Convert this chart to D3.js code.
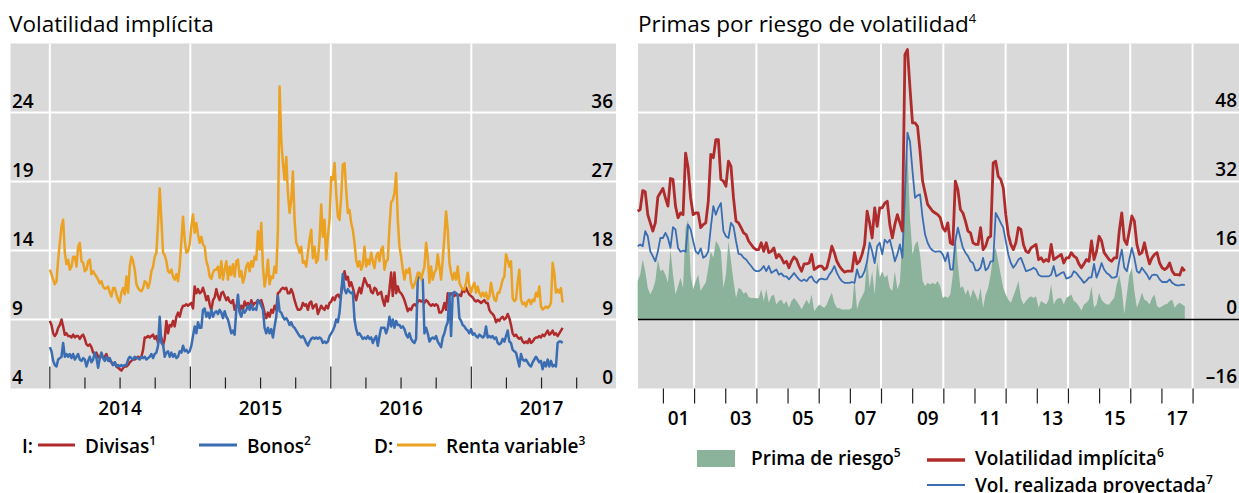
<!DOCTYPE html>
<meta charset="utf-8">
<title>Volatilidad implícita y primas por riesgo</title>
<style>
  body { margin: 0; background: #fff; }
  svg { font-family: "Open Sans", sans-serif; }
  .title { font-size: 22.5px; font-weight: 400; }
  .lbl { font-size: 19px; font-weight: 600; }
  .leg { font-size: 19px; font-weight: 600; }
  .sup { font-size: 12px; }
  .title .sup { font-size: 13px; }
</style>
<body>
<svg id="chart" width="1239" height="493"></svg>
<script src="https://d3js.org/d3.v7.min.js"></script>
<script>
// ---- left panel: implied volatility (2014 - Sep 2017), roughly twice a week ----
var leftStart = 2014.0, leftEnd = 2017.65;
var yearLabels = ["2014", "2015", "2016", "2017"];
var ticksLeftI = [4, 9, 14, 19, 24];
var ticksLeftD = [0, 9, 18, 27, 36];

var divisas = [
  8.9, 8.6, 8.0, 7.8, 8.0, 8.4, 8.6, 9.0, 8.5, 7.9,
  8.0, 7.8, 7.8, 7.7, 7.9, 7.7, 7.8, 7.8, 7.6, 7.8,
  7.9, 7.6, 7.2, 7.1, 7.2, 7.0, 6.6, 6.5, 6.6, 6.3,
  6.2, 6.5, 6.2, 6.3, 6.5, 6.1, 6.0, 5.9, 5.7, 5.9,
  5.6, 5.5, 5.4, 5.3, 5.5, 5.6, 5.6, 5.7, 5.9, 6.0,
  6.1, 6.1, 6.2, 6.3, 6.2, 6.3, 6.8, 7.7, 7.7, 7.8,
  7.7, 7.8, 7.9, 7.6, 7.8, 7.3, 7.7, 7.7, 7.1, 7.6,
  8.9, 8.0, 8.6, 8.5, 8.9, 8.5, 9.2, 9.5, 9.2, 9.7,
  10.0, 10.0, 10.1, 10.0, 10.1, 10.2, 9.8, 11.4, 10.9, 11.2,
  10.9, 11.0, 11.3, 10.9, 10.4, 10.7, 10.1, 9.7, 10.4, 10.6,
  11.2, 10.7, 10.4,
  10.9, 11.0, 10.7, 10.4, 10.6, 10.3, 10.2, 10.4, 9.7, 10.0,
  10.2, 9.6, 10.0, 9.7, 10.3, 10.0, 10.2, 9.8, 10.4, 10.0,
  10.2, 10.2, 10.4, 10.2, 10.4, 10.0, 9.5, 9.1, 9.5, 9.2,
  9.7, 9.5, 10.0, 9.7, 10.9, 11.0, 11.2, 11.3, 11.2, 11.3,
  10.9, 10.9, 11.2, 10.9, 10.4, 10.0, 9.7, 9.7, 9.8, 10.2,
  10.0, 10.1, 9.7, 10.2, 10.3, 9.8, 10.0, 10.1, 9.4, 9.7,
  10.0, 9.8, 9.7, 10.0, 9.8, 10.2, 10.3, 10.6, 10.4, 10.7,
  10.8, 10.6, 10.9, 11.8, 12.5, 11.9, 12.1, 11.4, 11.7, 11.3,
  10.8, 10.4, 10.9, 11.3, 10.9, 11.5, 12.0, 11.7, 11.4, 11.5,
  11.0, 10.9, 11.3, 11.2, 10.8, 10.9, 11.0, 10.4, 10.0, 10.7,
  10.3, 11.2, 12.4, 10.7, 12.4, 10.9, 11.4,
  11.0, 10.9, 10.7, 10.4, 10.0, 9.6, 9.8, 9.7, 10.0, 10.1,
  10.0, 10.3, 10.4, 10.3, 10.4, 10.2, 10.4, 10.3, 10.1, 10.0,
  10.1, 10.0, 10.1, 10.0, 9.5, 9.5, 9.7, 10.2, 9.7, 10.9,
  10.7, 10.9, 10.8, 10.7, 10.9, 10.7, 10.8, 10.7, 11.2, 11.0,
  11.3, 11.0, 10.8, 10.7, 10.6, 10.4, 10.3, 10.4, 10.3, 10.2,
  10.3, 10.4, 10.2, 10.2, 9.7, 9.5, 9.4, 9.2, 8.8, 9.0,
  8.9, 9.1, 9.2, 9.0, 9.1, 9.4, 9.1, 8.6, 8.0, 7.8,
  7.9, 7.7, 7.6, 7.7, 7.4, 7.3, 7.4, 7.3, 7.6, 7.3,
  7.4, 7.6, 7.7, 7.7, 7.8, 7.7, 7.9, 7.8, 8.0, 8.2,
  7.9, 8.0, 8.2, 7.9, 8.0, 7.8, 8.0, 8.2, 8.4
];

var bonos = [
  7.0, 6.7, 6.0, 5.7, 5.6, 6.1, 6.2, 6.3, 7.3, 6.3,
  6.5, 6.3, 6.5, 6.2, 6.5, 6.1, 6.3, 6.5, 6.1, 6.0,
  6.2, 6.1, 5.6, 6.0, 6.3, 5.9, 6.1, 6.6, 6.2, 5.5,
  6.2, 6.6, 6.2, 6.0, 6.3, 6.0, 6.2, 5.9, 5.7, 5.9,
  5.6, 5.7, 5.6, 5.7, 5.6, 5.7, 5.7, 6.1, 6.3, 6.2,
  6.1, 6.3, 6.2, 6.2, 6.1, 6.3, 6.2, 6.3, 6.1, 6.2,
  6.3, 6.5, 6.2, 6.5, 6.6, 7.1, 9.2, 7.3, 7.2, 6.3,
  6.6, 6.7, 6.3, 6.6, 6.3, 6.5, 6.2, 6.3, 6.7, 6.6,
  7.1, 6.7, 6.8, 6.6, 6.7, 7.1, 7.8, 8.5, 8.0, 8.8,
  8.4, 8.4, 9.7, 9.8, 9.2, 9.5, 9.1, 9.7, 9.2, 9.5,
  9.6, 9.4, 9.7,
  9.5, 9.1, 9.6, 9.2, 9.0, 8.5, 8.0, 8.2, 7.9, 9.7,
  10.8, 9.5, 9.2, 9.7, 9.5, 9.7, 10.0, 9.7, 10.1, 9.7,
  9.8, 9.7, 10.4, 10.3, 10.0, 9.7, 8.4, 8.0, 8.4, 8.0,
  8.3, 7.7, 8.5, 9.2, 10.7, 9.6, 9.5, 9.2, 9.0, 9.1,
  8.9, 8.6, 8.8, 8.5, 8.4, 8.2, 8.0, 7.8, 7.7, 7.8,
  7.6, 7.3, 7.1, 7.4, 7.6, 7.7, 7.6, 7.7, 7.6, 7.7,
  7.6, 7.3, 7.4, 7.3, 7.4, 7.8, 8.0, 8.2, 8.5, 9.0,
  8.8, 9.5, 10.9, 12.3, 11.2, 10.9, 11.2, 11.0, 10.9, 11.0,
  9.0, 8.3, 7.9, 8.0, 7.8, 7.6, 7.7, 7.6, 7.8, 7.6,
  7.7, 7.3, 7.6, 7.8, 7.1, 7.8, 8.4, 8.4, 8.4, 8.0,
  8.4, 9.2, 8.5, 9.0, 8.4, 8.9, 8.6,
  8.6, 8.4, 8.5, 8.3, 7.9, 7.7, 8.0, 7.6, 7.4, 7.3,
  7.6, 12.0, 12.1, 12.0, 11.9, 8.0, 8.4, 8.0, 7.4, 7.6,
  7.7, 7.6, 7.8, 7.4, 7.2, 7.0, 7.7, 8.0, 8.5, 8.8,
  10.9, 7.8, 10.9, 11.0, 10.9, 10.8, 9.1, 8.9, 8.6, 8.5,
  8.3, 8.2, 8.0, 8.3, 7.9, 8.0, 7.8, 7.7, 7.9, 7.8,
  7.7, 7.8, 8.5, 7.7, 7.8, 7.7, 7.8, 7.6, 7.7, 7.3,
  7.2, 7.3, 7.6, 7.4, 7.8, 8.2, 7.4, 7.3, 6.8, 6.7,
  6.6, 6.1, 5.6, 6.5, 6.1, 6.0, 6.1, 5.9, 5.7, 5.6,
  5.9, 6.1, 6.3, 6.1, 5.9, 6.0, 5.4, 5.9, 5.6, 6.1,
  5.6, 6.0, 5.6, 5.7, 5.6, 7.3, 7.4, 7.4, 7.3
];

var rentaVariable = [
  15.5, 14.9, 14.2, 13.6, 14.0, 16.8, 19.0, 21.1, 22.0, 17.7,
  16.2, 16.8, 15.5, 15.9, 17.2, 17.2, 15.9, 18.5, 19.0, 16.6,
  16.4, 15.3, 15.5, 16.6, 16.8, 14.9, 15.3, 14.9, 14.6, 14.2,
  13.7, 14.0, 13.3, 13.0, 13.1, 13.3, 12.5, 12.0, 13.1, 13.1,
  12.3, 11.6, 11.2, 12.5, 13.1, 12.3, 14.6, 12.5, 15.9, 17.2,
  16.6, 15.5, 13.6, 13.1, 12.8, 12.7, 13.1, 14.0, 13.8, 13.1,
  13.8, 15.3, 15.9, 17.2, 17.7, 21.6, 26.1, 22.0, 17.7, 17.4,
  16.6, 15.3, 15.1, 15.5, 14.6, 14.2, 14.9, 14.0, 15.9, 19.2,
  22.4, 19.4, 17.7, 17.9, 18.8, 21.1, 22.7, 20.3, 21.6, 20.1,
  19.0, 19.8, 18.8, 18.5, 16.6, 15.9, 14.6, 14.3, 15.1, 15.5,
  15.5, 15.9, 14.4,
  16.6, 14.2, 15.5, 16.6, 14.2, 15.9, 14.8, 16.2, 14.6, 16.6,
  16.8, 14.6, 15.3, 13.8, 14.6, 15.9, 16.4, 15.3, 16.6, 15.9,
  17.2, 16.8, 20.5, 18.1, 21.6, 15.9, 13.3, 14.6, 16.8, 13.6,
  14.6, 14.4, 15.9, 15.1, 20.7, 39.4, 32.4, 29.4, 27.2, 30.2,
  25.5, 22.9, 24.6, 28.3, 22.0, 19.0, 18.5, 17.7, 18.5, 16.4,
  16.6, 15.9, 17.7, 19.4, 20.7, 17.0, 18.5, 16.4, 16.8, 19.4,
  24.0, 19.8, 22.0, 16.8, 19.8, 22.0, 27.6, 27.2, 29.4, 25.5,
  22.4, 22.0, 25.0, 29.2, 29.4, 25.9, 22.9, 23.3, 21.6, 20.7,
  19.0, 16.8, 15.9, 16.6, 15.5, 16.2, 18.5, 15.9, 16.8, 16.2,
  17.7, 16.6, 15.7, 17.2, 17.7, 16.6, 18.1, 18.5, 15.5, 16.6,
  16.8, 21.1, 24.3, 24.6, 25.5, 28.1, 22.0,
  18.5, 17.2, 15.5, 14.2, 15.5, 15.1, 15.7, 13.8, 13.1, 13.6,
  14.2, 15.1, 15.1, 14.2, 15.1, 15.9, 19.0, 17.2, 13.8, 15.9,
  14.2, 15.1, 15.5, 17.5, 15.9, 14.2, 16.8, 19.8, 23.1, 20.7,
  16.4, 15.1, 14.2, 15.1, 14.2, 15.9, 13.8, 13.3, 12.9, 12.9,
  13.8, 15.1, 13.3, 12.5, 13.3, 13.8, 12.5, 13.3, 12.5, 12.0,
  12.5, 12.0, 12.5, 11.6, 12.0, 13.8, 12.5, 11.6, 11.4, 12.5,
  12.5, 13.3, 14.2, 14.6, 17.5, 16.8, 15.9, 16.6, 11.8, 11.4,
  11.6, 13.8, 15.5, 11.6, 11.0, 11.2, 10.7, 11.4, 11.6, 11.0,
  11.6, 11.4, 12.5, 12.0, 13.3, 10.7, 10.3, 10.5, 10.7, 10.5,
  10.7, 11.2, 16.4, 15.1, 12.5, 12.9, 12.5, 13.1, 11.2
];

// ---- right panel: volatility risk premia (monthly, Mar 2000 - Sep 2017) ----
var rightStart = 2000.19, rightEnd = 2017.75;
var rightYearLabels = ["01", "03", "05", "07", "09", "11", "13", "15", "17"];
var ticksRight = [-16, 0, 16, 32, 48];

var volImplicita = [
  25.1, 25.5, 29.9, 29.6, 24.3, 22.4, 20.5, 22.4, 28.4, 29.4,
  30.4, 28.2, 26.3, 32.7, 32.5, 26.3, 23.6, 24.7, 24.3, 38.6,
  35.2, 28.2, 24.3, 24.7, 24.7, 21.3, 22.0, 22.4, 27.4, 38.3,
  37.5, 41.7, 41.7, 32.5, 32.1, 30.9, 36.7, 35.5, 28.2, 22.8,
  22.4, 21.3, 20.1, 19.7, 18.2, 17.4, 16.6, 16.2, 16.2, 17.8,
  15.8, 17.8, 15.5, 15.8, 16.6, 14.3, 15.1, 14.3, 13.1, 13.5,
  12.0, 13.5, 14.5, 13.9, 12.4, 11.2, 12.9, 12.9, 13.1, 15.1,
  11.6, 12.0, 12.4, 12.4,
  11.6, 12.0, 14.3, 17.0, 15.5, 13.5, 12.4, 11.6, 11.0, 11.2,
  11.2, 11.2, 15.5, 12.9, 13.5, 15.1, 17.4, 25.1, 22.4, 18.9,
  25.9, 21.6, 25.9, 25.9, 27.0, 27.4, 22.0, 18.9, 22.0, 24.3,
  22.4, 20.5, 61.4, 62.6, 53.7, 45.6, 45.6, 44.8, 39.0, 32.1,
  29.4, 26.7, 25.9, 25.1, 24.7, 24.3, 23.6, 21.3, 20.5, 22.4,
  17.8, 17.4, 32.1, 30.1, 25.5, 24.7, 22.8, 20.5, 20.1, 17.8,
  17.4, 17.4, 21.3, 16.2, 17.0, 18.9, 19.3, 36.3, 36.7, 33.2,
  32.5, 30.5,
  24.3, 19.7, 17.4, 16.2, 17.8, 21.3, 20.9, 17.4, 15.8, 15.5,
  16.6, 17.0, 17.4, 13.9, 14.3, 13.4, 13.9, 13.5, 17.4, 13.9,
  14.3, 14.7, 15.1, 13.1, 14.3, 14.3, 15.5, 14.7, 14.3, 12.9,
  12.0, 12.9, 13.9, 13.5, 18.2, 13.9, 15.8, 19.3, 18.2, 15.5,
  14.7, 13.9, 13.5, 14.3, 14.3, 20.5, 24.7, 18.5, 17.4, 20.5,
  24.0, 22.8, 17.4, 15.1, 15.5, 17.8, 15.1, 12.9, 14.3, 15.1,
  15.5, 13.1, 12.0, 11.6, 12.0, 13.1, 11.2, 10.4, 10.4, 10.3,
  12.0, 11.2
];

var volRealizada = [
  17.0, 17.4, 17.0, 20.5, 19.3, 15.8, 14.7, 13.5, 15.8, 18.9,
  18.9, 20.1, 18.9, 16.6, 21.4, 20.9, 16.6, 15.7, 16.0, 15.7,
  22.0, 20.9, 18.2, 15.8, 15.2, 16.5, 14.3, 14.7, 15.8, 21.3,
  26.3, 24.3, 25.9, 27.0, 20.5, 19.3, 18.9, 22.4, 21.6, 18.2,
  15.2, 15.1, 14.3, 13.9, 13.1, 12.4, 11.6, 11.2, 11.2, 11.6,
  12.4, 11.2, 12.4, 10.8, 11.2, 11.6, 10.4, 10.7, 10.0, 10.0,
  9.3, 10.0, 10.8, 10.0, 9.3, 8.9, 9.3, 8.9, 9.7, 10.0,
  8.9, 8.5, 9.3, 9.5,
  9.3, 9.3, 10.4, 11.2, 12.4, 10.8, 9.7, 8.9, 8.5, 8.5,
  8.5, 8.7, 8.5, 11.6, 9.7, 10.0, 11.2, 13.5, 17.8, 15.8,
  13.1, 17.0, 17.8, 15.1, 18.5, 17.8, 18.5, 16.2, 13.5, 15.1,
  17.4, 14.3, 29.0, 43.3, 41.3, 34.4, 28.2, 28.8, 29.0, 23.6,
  19.7, 17.8, 16.6, 16.0, 15.7, 15.8, 15.8, 15.1, 13.5, 15.5,
  11.6, 11.6, 18.2, 21.3, 18.9, 16.6, 15.5, 14.7, 13.5, 13.1,
  11.4, 11.4, 12.0, 14.3, 11.4, 12.0, 13.5, 13.5, 24.7, 23.6,
  22.4, 21.3,
  18.2, 15.1, 13.1, 12.0, 12.8, 13.9, 14.3, 12.8, 11.2, 11.4,
  11.6, 12.0, 11.6, 10.4, 10.0, 10.0, 10.0, 10.0, 10.4, 12.4,
  10.0, 10.4, 10.8, 11.0, 9.5, 9.7, 10.0, 11.2, 10.8, 10.0,
  9.3, 8.5, 9.0, 9.7, 9.8, 12.9, 9.7, 11.2, 13.1, 11.6,
  10.8, 10.4, 9.7, 9.7, 10.0, 13.5, 16.2, 12.0, 11.2, 13.9,
  16.6, 14.3, 11.2, 10.8, 12.0, 11.2, 10.4, 9.3, 10.3, 10.4,
  10.3, 9.3, 8.7, 8.7, 8.7, 9.3, 8.5, 8.1, 7.9, 7.9,
  8.1, 8.0
];

var primaRiesgo = [
  8.9, 10.4, 13.9, 11.2, 7.3, 5.8, 7.0, 8.9, 13.9, 11.2,
  11.6, 10.4, 8.5, 16.2, 10.4, 5.8, 7.7, 9.7, 7.3, 21.3,
  23.2, 10.4, 7.0, 8.9, 10.4, 6.6, 7.7, 8.5, 12.0, 15.8,
  14.3, 18.2, 17.4, 15.8, 7.3, 10.4, 18.2, 13.5, 8.9, 5.0,
  7.3, 7.0, 6.0, 6.4, 5.2, 5.0, 5.0, 4.9, 4.9, 7.0,
  4.3, 7.0, 3.9, 5.4, 5.8, 3.5, 4.3, 4.6, 3.5, 4.3,
  2.7, 4.3, 5.0, 4.3, 3.5, 2.3, 3.5, 4.6, 3.5, 5.8,
  1.9, 2.7, 3.5, 3.1,
  2.7, 3.5, 5.0, 6.2, 3.9, 2.7, 2.6, 2.3, 2.3, 2.3,
  2.3, 2.7, 9.3, 2.3, 4.3, 5.4, 6.6, 14.3, 7.3, 11.2,
  5.8, 13.5, 9.7, 11.2, 9.7, 10.4, 7.3, 6.6, 11.2, 7.0,
  8.5, 18.9, 30.5, 39.0, 23.6, 15.1, 17.4, 18.2, 15.1, 8.9,
  7.7, 8.5, 8.1, 8.5, 8.1, 8.9, 7.7, 5.0, 5.4, 5.0,
  5.8, 10.4, 20.1, 12.8, 7.3, 7.7, 5.8, 7.0, 5.0, 7.0,
  5.8, 4.3, 7.3, 2.7, 5.8, 7.3, 10.4, 15.1, 16.6, 13.5,
  10.4, 7.3,
  5.8, 4.6, 3.9, 5.4, 7.0, 8.9, 5.0, 3.5, 4.3, 5.0,
  5.4, 5.0, 5.4, 2.7, 4.3, 3.9, 3.5, 4.6, 8.1, 3.5,
  4.6, 5.0, 4.9, 3.5, 5.0, 5.4, 5.8, 4.3, 3.9, 3.1,
  2.1, 3.5, 3.9, 4.6, 7.7, 2.7, 3.5, 6.2, 4.6, 3.9,
  3.5, 3.5, 4.3, 5.0, 8.1, 10.4, 7.0, 1.2, 5.8, 10.4,
  12.0, 6.6, 2.7, 4.3, 6.2, 4.6, 4.3, 3.5, 5.0, 5.8,
  3.1, 2.7, 3.1, 3.5, 3.6, 4.3, 4.6, 2.7, 3.5, 3.9,
  3.5, 3.1
];

// ---------------------------------------------------------------------
var bg = "#d9d9d9", cRed = "#b02b2b", cBlue = "#3b6db3",
    cOrange = "#eba122", cGreen = "#8bb29a";

var svg = d3.select("#chart");

// ===== left panel =====
var L = {x0: 10.5, x1: 616, y0: 43.5, y1: 388.5};
var xL = d3.scaleLinear().domain([2013.72, 2018.03]).range([L.x0, L.x1]);
var yI = d3.scaleLinear().domain([4, 29]).range([L.y1, L.y0]);
var yD = d3.scaleLinear().domain([0, 45]).range([L.y1, L.y0]);
var tL = d3.scaleLinear().domain([0, divisas.length - 1]).range([leftStart, leftEnd]);

var gL = svg.append("g");
gL.append("rect")
    .attr("x", L.x0).attr("y", L.y0)
    .attr("width", L.x1 - L.x0).attr("height", L.y1 - L.y0)
    .attr("fill", bg);

gL.selectAll("line.hgrid").data(ticksLeftI.slice(1)).join("line")
    .attr("class", "hgrid")
    .attr("x1", L.x0).attr("x2", L.x1)
    .attr("y1", d => yI(d)).attr("y2", d => yI(d))
    .attr("stroke", "#fff").attr("stroke-width", 2);

var yearStarts = yearLabels.map(Number);
gL.selectAll("line.vgrid").data(yearStarts).join("line")
    .attr("class", "vgrid")
    .attr("x1", d => xL(d)).attr("x2", d => xL(d))
    .attr("y1", L.y0).attr("y2", L.y1)
    .attr("stroke", "#fff").attr("stroke-width", 2);

// quarterly ticks drawn upward from the bottom edge
var quarters = d3.range(0, 16).map(q => 2014 + q * 0.25);
gL.selectAll("line.qtick").data(quarters).join("line")
    .attr("class", "qtick")
    .attr("x1", d => xL(d)).attr("x2", d => xL(d))
    .attr("y1", L.y1)
    .attr("y2", (d, i) => L.y1 - (i % 4 === 0 ? 22 : 11))
    .attr("stroke", "#222").attr("stroke-width", 1.2);

function leftLine(yScale) {
  return d3.line().x((d, i) => xL(tL(i))).y(d => yScale(d));
}
gL.append("path").datum(divisas).attr("d", leftLine(yI))
    .attr("fill", "none").attr("stroke", cRed).attr("stroke-width", 2.5)
    .attr("stroke-linejoin", "round");
gL.append("path").datum(bonos).attr("d", leftLine(yI))
    .attr("fill", "none").attr("stroke", cBlue).attr("stroke-width", 2.5)
    .attr("stroke-linejoin", "round");
gL.append("path").datum(rentaVariable).attr("d", leftLine(yD))
    .attr("fill", "none").attr("stroke", cOrange).attr("stroke-width", 2.5)
    .attr("stroke-linejoin", "round");

// axis labels sit just above their gridline
gL.selectAll("text.lI").data(ticksLeftI).join("text")
    .attr("class", "lbl lI")
    .attr("x", 12).attr("y", d => yI(d) - 5)
    .text(d => d);
gL.selectAll("text.lD").data(ticksLeftD).join("text")
    .attr("class", "lbl lD")
    .attr("x", 613).attr("y", d => yD(d) - 5)
    .attr("text-anchor", "end")
    .text(d => d);
gL.selectAll("text.yr").data(yearLabels).join("text")
    .attr("class", "lbl yr")
    .attr("x", d => xL(+d + 0.5)).attr("y", 415)
    .attr("text-anchor", "middle")
    .text(d => d);

svg.append("text").attr("class", "title").attr("x", 9).attr("y", 32)
    .text("Volatilidad implícita");

// left legend
function legText(g, x, y, label, sup) {
  var t = g.append("text").attr("class", "leg").attr("x", x).attr("y", y);
  t.append("tspan").text(label);
  if (sup) t.append("tspan").attr("class", "sup").attr("dy", -8).text(sup);
  return t;
}
var legL = svg.append("g");
legText(legL, 22, 453, "I:");
legL.append("line").attr("x1", 38).attr("x2", 75).attr("y1", 445).attr("y2", 445)
    .attr("stroke", cRed).attr("stroke-width", 3);
legText(legL, 85, 453, "Divisas", "1");
legL.append("line").attr("x1", 199).attr("x2", 237).attr("y1", 445).attr("y2", 445)
    .attr("stroke", cBlue).attr("stroke-width", 3);
legText(legL, 247, 453, "Bonos", "2");
legText(legL, 374, 453, "D:");
legL.append("line").attr("x1", 397).attr("x2", 436).attr("y1", 445).attr("y2", 445)
    .attr("stroke", cOrange).attr("stroke-width", 3);
legText(legL, 446, 453, "Renta variable", "3");

// ===== right panel =====
var R = {x0: 638, x1: 1239, y0: 43.5, y1: 388.5};
var xR = d3.scaleLinear().domain([2000.2, 2019.49]).range([R.x0, R.x1]);
var yP = d3.scaleLinear().domain([-16, 64]).range([R.y1, R.y0]);
var tR = d3.scaleLinear().domain([0, volImplicita.length - 1]).range([rightStart, rightEnd]);

var gR = svg.append("g");
gR.append("rect")
    .attr("x", R.x0).attr("y", R.y0)
    .attr("width", R.x1 - R.x0).attr("height", R.y1 - R.y0)
    .attr("fill", bg);

gR.selectAll("line.hgrid").data([16, 32, 48]).join("line")
    .attr("class", "hgrid")
    .attr("x1", R.x0).attr("x2", R.x1)
    .attr("y1", d => yP(d)).attr("y2", d => yP(d))
    .attr("stroke", "#fff").attr("stroke-width", 2);
gR.selectAll("line.vgrid").data(d3.range(2002, 2019, 2)).join("line")
    .attr("class", "vgrid")
    .attr("x1", d => xR(d)).attr("x2", d => xR(d))
    .attr("y1", R.y0).attr("y2", R.y1)
    .attr("stroke", "#fff").attr("stroke-width", 2);

gR.append("path").datum(primaRiesgo)
    .attr("d", d3.area().x((d, i) => xR(tR(i))).y0(yP(0)).y1(d => yP(d)))
    .attr("fill", cGreen);

gR.append("line")
    .attr("x1", R.x0).attr("x2", R.x1)
    .attr("y1", yP(0)).attr("y2", yP(0))
    .attr("stroke", "#000").attr("stroke-width", 1.5);

var rLine = d3.line().x((d, i) => xR(tR(i))).y(d => yP(d));
gR.append("path").datum(volRealizada).attr("d", rLine)
    .attr("fill", "none").attr("stroke", cBlue).attr("stroke-width", 1.8)
    .attr("stroke-linejoin", "round");
gR.append("path").datum(volImplicita).attr("d", rLine)
    .attr("fill", "none").attr("stroke", cRed).attr("stroke-width", 2.8)
    .attr("stroke-linejoin", "round");

// yearly ticks hang below the panel
var xAxisR = d3.axisBottom(xR).tickValues(d3.range(2001, 2019)).tickSize(15).tickFormat("");
var axR = gR.append("g").attr("transform", "translate(0," + R.y1 + ")").call(xAxisR);
axR.select(".domain").remove();
axR.selectAll(".tick line").attr("stroke", "#222").attr("stroke-width", 1.2);

gR.selectAll("text.yr").data(rightYearLabels).join("text")
    .attr("class", "lbl yr")
    .attr("x", d => xR(2000 + +d + 0.5)).attr("y", 425)
    .attr("text-anchor", "middle")
    .text(d => d);
gR.selectAll("text.lP").data(ticksRight).join("text")
    .attr("class", "lbl lP")
    .attr("x", 1237).attr("y", d => yP(d) - 6)
    .attr("text-anchor", "end")
    .text(d => d < 0 ? "\u2013" + Math.abs(d) : d);

var tt = svg.append("text").attr("class", "title").attr("x", 638).attr("y", 32);
tt.append("tspan").text("Primas por riesgo de volatilidad");
tt.append("tspan").attr("class", "sup").attr("dy", -9).text("4");

// right legend
var legR = svg.append("g");
legR.append("rect").attr("x", 697).attr("y", 450).attr("width", 38).attr("height", 17)
    .attr("fill", cGreen);
legText(legR, 751, 465, "Prima de riesgo", "5");
legR.append("line").attr("x1", 927).attr("x2", 965).attr("y1", 460).attr("y2", 460)
    .attr("stroke", cRed).attr("stroke-width", 3.5);
legText(legR, 975, 465, "Volatilidad implícita", "6");
legR.append("line").attr("x1", 927).attr("x2", 965).attr("y1", 485).attr("y2", 485)
    .attr("stroke", cBlue).attr("stroke-width", 2);
legText(legR, 975, 492, "Vol. realizada proyectada", "7");
</script>
</body>
